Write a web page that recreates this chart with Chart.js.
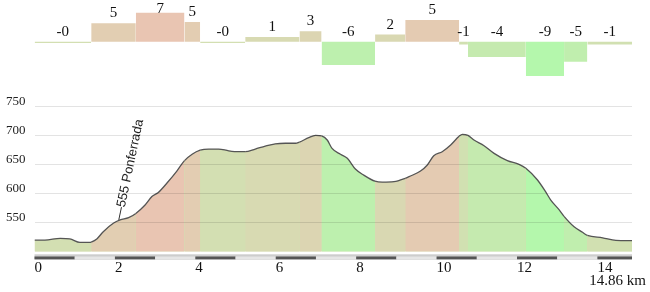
<!DOCTYPE html>
<html>
<head>
<meta charset="utf-8">
<script src="https://cdn.jsdelivr.net/npm/chart.js@4.4.0/dist/chart.umd.min.js"></script>
<style>
body{margin:0;background:#fff;}
#wrap{position:relative;width:650px;height:292px;}
canvas{position:absolute;left:0;top:0;}
</style>
</head>
<body>
<div id="wrap">
<canvas id="slopeChart" width="650" height="292"></canvas>
<canvas id="profileChart" width="650" height="292"></canvas>
</div>
<script>
// profile data (km / m)
const distKm = [0, 0.26, 0.64, 0.88, 1.13, 1.38, 1.41, 1.55, 1.71, 1.96, 2.13, 2.34, 2.52, 2.75, 2.92, 3.08, 3.29, 3.54, 3.73, 3.92,
    4.12, 4.33, 4.58, 4.83, 5.08, 5.24, 5.49, 5.74, 5.99, 6.24, 6.49, 6.59, 6.82, 6.99, 7.14, 7.28, 7.40, 7.61, 7.78, 7.98,
    8.19, 8.47, 8.65, 8.94, 9.22, 9.35, 9.60, 9.77, 9.93, 10.14, 10.35, 10.56, 10.64, 10.78, 10.93, 11.18, 11.43, 11.76, 12.05, 12.22,
    12.51, 12.71, 12.84, 13.05, 13.17, 13.42, 13.63, 13.75, 14.13, 14.46, 14.86];
const elevM = [520, 520, 523, 522, 516, 516, 516.5, 522, 534.5, 549, 554.7, 558.6, 566, 580.5, 595, 602, 618, 639, 657, 668,
    675, 677, 677, 674, 672.5, 672.5, 677, 682, 686, 687, 687, 689, 696.6, 700.6, 699.5, 692.6, 678, 668, 661, 642.6,
    632, 621.5, 620, 620.7, 626.5, 630.5, 639, 649.5, 665.5, 672.4, 684, 699, 702.4, 700.5, 692.6, 682.8, 669.6, 657, 650.7, 644,
    623.6, 603.5, 589, 572, 561, 543, 533.4, 528, 524, 519.6, 519];
const totalKm = 14.86;

// slope segments (start km / %)
const slopeStart = [0, 1.41, 2.52, 3.73, 4.12, 5.24, 6.59, 7.14, 8.47, 9.22, 10.56, 10.78, 12.22, 13.17, 13.75];
const slopePct = [-0.3, 4.6, 7.25, 4.9, -0.3, 1.2, 2.6, -5.8, 1.8, 5.4, -0.7, -3.8, -8.6, -5.0, -0.7];

const xTicks = [0, 2, 4, 6, 8, 10, 12, 14];
const yTicks = [550, 600, 650, 700, 750];

const waypointKm = [2.09];
const waypointEle = [555];
const waypointName = ['Ponferrada'];

const serif = "'Liberation Serif', 'Times New Roman', serif";

function mix(a, b, t) {
    return 'rgb(' + a.map((v, i) => Math.round(v + (b[i] - v) * t)).join(',') + ')';
}
function slopeColor(s) {
    const flat = [212, 222, 178], up = [233, 197, 178], down = [180, 247, 172];
    if (s >= 0) return mix(flat, up, Math.min(s / 7, 1));
    return mix(flat, down, Math.min(-s / 8, 1));
}
function slopeAt(km) {
    let s = slopePct[0];
    for (let i = 0; i < slopeStart.length; i++) {
        if (km >= slopeStart[i]) s = slopePct[i];
    }
    return s;
}

//top: slope bars
const slopeLabels = {
    id: 'slopeLabels',
    afterDatasetsDraw(chart) {
        const {ctx, scales: {x, y}} = chart;
        ctx.save();
        ctx.font = '15px ' + serif;
        ctx.fillStyle = '#111';
        ctx.textAlign = 'center';
        ctx.textBaseline = 'alphabetic';
        slopePct.forEach((v, i) => {
            const x0 = slopeStart[i];
            const x1 = i + 1 < slopeStart.length ? slopeStart[i + 1] : totalKm;
            const cx = x.getPixelForValue((x0 + x1) / 2);
            const top = y.getPixelForValue(Math.max(v, 0));
            const r = Math.round(v);
            const txt = (v < 0 && r === 0) ? '-0' : String(r);
            ctx.fillText(txt, cx, Math.max(top - 6, 13));
        });
        ctx.restore();
    }
};

const slopeData = slopeStart.map((x, i) => ({x: x, y: slopePct[i]}));
slopeData.push({x: totalKm, y: slopePct[slopePct.length - 1]});

new Chart(document.getElementById('slopeChart'), {
    type: 'line',
    data: {
        datasets: [{
            data: slopeData,
            stepped: true,
            fill: 'origin',
            borderWidth: 0,
            borderColor: 'transparent',
            pointRadius: 0,
            backgroundColor: slopeColor(0),
            segment: {backgroundColor: ctx => slopeColor(ctx.p0.parsed.y)}
        }]
    },
    options: {
        responsive: false,
        animation: false,
        layout: {padding: {left: 34.5, right: 18, top: 0, bottom: 202}},
        scales: {
            x: {type: 'linear', display: false, min: 0, max: totalKm},
            y: {display: false, min: -12.07, max: 10.43}
        },
        plugins: {legend: {display: false}, tooltip: {enabled: false}}
    },
    plugins: [slopeLabels]
});

//bottom: elevation profile
const axisStripes = {
    id: 'axisStripes',
    afterDraw(chart) {
        const {ctx, chartArea, scales: {x}} = chart;
        const top = chartArea.bottom + 2.6;
        ctx.save();
        ctx.fillStyle = '#cdcdcd';
        ctx.fillRect(x.left, top, x.right - x.left, 5.4);
        for (let k = 0; k < totalKm; k++) {
            const x0 = x.getPixelForValue(k);
            const x1 = x.getPixelForValue(Math.min(k + 1, totalKm));
            ctx.fillStyle = k % 2 === 0 ? '#555' : '#e6e6e6';
            ctx.fillRect(x0, top + 2.2, x1 - x0, 2.8);
        }
        ctx.font = '15px ' + serif;
        ctx.fillStyle = '#111';
        ctx.textAlign = 'right';
        ctx.textBaseline = 'alphabetic';
        ctx.fillText(totalKm.toFixed(2) + ' km', 646, 285);
        ctx.restore();
    }
};

const waypointLabel = {
    id: 'waypointLabel',
    afterDatasetsDraw(chart) {
        const {ctx, scales: {x, y}} = chart;
        waypointKm.forEach((km, i) => {
            ctx.save();
            ctx.translate(x.getPixelForValue(km), y.getPixelForValue(waypointEle[i]));
            ctx.rotate(-78 * Math.PI / 180);
            ctx.font = "13px 'Liberation Sans', Arial, sans-serif";
            ctx.fillStyle = '#222';
            ctx.textAlign = 'left';
            ctx.textBaseline = 'middle';
            ctx.fillText('\u2014' + waypointEle[i] + ' ' + waypointName[i], 0, 0);
            ctx.restore();
        });
    }
};

const profilePoints = distKm.map((x, i) => ({x: x, y: elevM[i]}));

new Chart(document.getElementById('profileChart'), {
    type: 'line',
    data: {
        datasets: [{
            data: profilePoints,
            fill: 'start',
            borderColor: '#555',
            borderWidth: 1.3,
            pointRadius: 0,
            cubicInterpolationMode: 'monotone',
            backgroundColor: slopeColor(0),
            segment: {
                backgroundColor: ctx => slopeColor(slopeAt((ctx.p0.parsed.x + ctx.p1.parsed.x) / 2))
            }
        }, {
            // plain underlay so the seams between coloured pieces don't show white
            data: profilePoints,
            fill: 'start',
            borderWidth: 0,
            borderColor: 'transparent',
            pointRadius: 0,
            cubicInterpolationMode: 'monotone',
            backgroundColor: slopeColor(0)
        }]
    },
    options: {
        responsive: false,
        animation: false,
        layout: {padding: {left: 0, right: 18, top: 100.9, bottom: 0}},
        scales: {
            x: {
                type: 'linear',
                min: 0,
                max: totalKm,
                afterBuildTicks: s => { s.ticks = xTicks.map(v => ({value: v})); },
                afterFit: s => { s.height = 40.3; },
                grid: {display: false, drawTicks: false},
                border: {display: false},
                ticks: {align: 'start', padding: 7, maxRotation: 0, autoSkip: false, color: '#111', font: {family: serif, size: 15}}
            },
            y: {
                min: 500,
                max: 760,
                afterBuildTicks: s => { s.ticks = yTicks.map(v => ({value: v})); },
                afterFit: s => { s.width = 34.5; },
                grid: {color: 'rgba(0,0,0,0.11)', drawTicks: false, z: 1},
                border: {display: false},
                ticks: {padding: 9, labelOffset: -5, color: '#222', font: {family: serif, size: 13}}
            }
        },
        plugins: {legend: {display: false}, tooltip: {enabled: false}}
    },
    plugins: [axisStripes, waypointLabel]
});
</script>
</body>
</html>
